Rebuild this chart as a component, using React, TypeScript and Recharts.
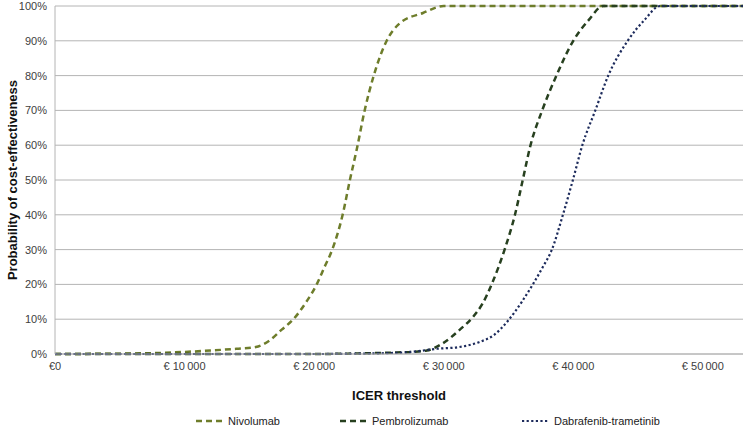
import React from "react";
import {
  CartesianGrid,
  Legend,
  Line,
  LineChart,
  XAxis,
  YAxis,
} from "recharts";

// ICER threshold (€) and probability of cost-effectiveness (%)
const nivoX = [0, 5000, 8000, 10000, 12000, 14000, 15500, 16600, 17500, 18400, 19400, 20200, 20800, 21400, 22200, 22760, 23300, 23900, 24600, 25600, 26600, 28400, 30000, 53100];
const nivoY = [0, 0.1, 0.3, 0.6, 1.0, 1.5, 2, 4, 7, 10, 15, 20, 25, 30, 40, 50, 59, 70, 80, 90, 95, 98, 100, 100];

const pembroX = [0, 20000, 24000, 26000, 27500, 28700, 29900, 31250, 32250, 33000, 33700, 34700, 35500, 36100, 36700, 37600, 38700, 40000, 41200, 42300, 53100];
const pembroY = [0, 0, 0.2, 0.4, 0.6, 1, 3, 7, 10.6, 14.5, 20, 30, 40, 50, 60, 70, 80, 90, 96, 100, 100];

const dabX = [0, 20000, 25000, 27500, 29500, 31200, 32800, 33900, 34950, 36030, 36880, 37650, 38350, 39200, 39970, 40700, 41700, 42700, 44200, 45500, 46700, 53100];
const dabY = [0, 0, 0.2, 0.6, 1.5, 2, 3.5, 5.5, 9.5, 15, 20, 25, 30, 40, 50, 60, 70, 80, 90, 96, 100, 100];

const xTicks = [0, 10000, 20000, 30000, 40000, 50000];
const yTicks = [0, 10, 20, 30, 40, 50, 60, 70, 80, 90, 100];

const toRows = (xs: number[], ys: number[]) => xs.map((x, i) => ({ x, y: ys[i] }));

const nivoData = toRows(nivoX, nivoY);
const pembroData = toRows(pembroX, pembroY);
const dabData = toRows(dabX, dabY);

const FONT = "'Liberation Sans', Arial, sans-serif";
const TEXT = "#404040";

const series = [
  { name: "Nivolumab", color: "#6e7d2b", dash: "6 4", width: 2.5, left: 196 },
  { name: "Pembrolizumab", color: "#27401f", dash: "6 4", width: 2.5, left: 340 },
  { name: "Dabrafenib-trametinib", color: "#1d2b5c", dash: "2.2 2.4", width: 2.2, left: 522 },
];

const fmtEuro = (v: number) =>
  v === 0 ? "€0" : "€ " + String(v).replace(/\B(?=(\d{3})+(?!\d))/g, "\u202F");

function LegendBox() {
  return (
    <div style={{ position: "relative", height: 20, width: 743, fontFamily: FONT, fontSize: 11, color: "#222" }}>
      {series.map((s) => (
        <div key={s.name} style={{ position: "absolute", left: s.left, top: 7, display: "flex", alignItems: "center" }}>
          <svg width={27} height={6} style={{ marginRight: 5 }}>
            <line x1={0} y1={3} x2={27} y2={3} stroke={s.color} strokeWidth={s.width} strokeDasharray={s.dash} />
          </svg>
          <span>{s.name}</span>
        </div>
      ))}
    </div>
  );
}

function YLabel(props: any) {
  const vb = props.viewBox || {};
  const cx = 12;
  const cy = (vb.y || 0) + (vb.height || 0) / 2;
  return (
    <text
      x={cx}
      y={cy}
      transform={`rotate(-90 ${cx} ${cy})`}
      textAnchor="middle"
      dominantBaseline="central"
      fontFamily={FONT}
      fontSize={13}
      fontWeight="bold"
      fill="#111"
    >
      Probability of cost-effectiveness
    </text>
  );
}

export default function App() {
  return (
    <div style={{ position: "absolute", left: 0, top: 0 }}>
      <LineChart width={743} height={428} margin={{ top: 6, right: 0, left: 0, bottom: 0 }}>
        <CartesianGrid vertical={false} stroke="#b4b4b4" />
        <XAxis
          dataKey="x"
          type="number"
          domain={[0, 53100]}
          ticks={xTicks}
          tickFormatter={fmtEuro}
          tickLine={false}
          axisLine={{ stroke: "#b4b4b4" }}
          tick={{ fill: TEXT, fontSize: 11, fontFamily: FONT }}
          height={54}
          allowDataOverflow
          label={{ value: "ICER threshold", position: "insideBottom", offset: 8, fill: "#111", fontSize: 13, fontWeight: "bold", fontFamily: FONT }}
        />
        <YAxis
          type="number"
          domain={[0, 100]}
          ticks={yTicks}
          tickFormatter={(v: number) => `${v}%`}
          tickLine={false}
          axisLine={{ stroke: "#b4b4b4" }}
          tick={{ fill: TEXT, fontSize: 11, fontFamily: FONT }}
          width={55}
          label={<YLabel />}
        />
        <Legend verticalAlign="bottom" content={() => <LegendBox />} wrapperStyle={{ left: 0, width: 743, height: 20 }} />
        <Line data={nivoData} dataKey="y" name="Nivolumab" type="monotone" stroke={series[0].color} strokeWidth={2.5} strokeDasharray="6 4" dot={false} isAnimationActive={false} />
        <Line data={pembroData} dataKey="y" name="Pembrolizumab" type="monotone" stroke={series[1].color} strokeWidth={2.5} strokeDasharray="6 4" dot={false} isAnimationActive={false} />
        <Line data={dabData} dataKey="y" name="Dabrafenib-trametinib" type="monotone" stroke={series[2].color} strokeWidth={2.2} strokeDasharray="2.2 2.4" dot={false} isAnimationActive={false} />
      </LineChart>
    </div>
  );
}
